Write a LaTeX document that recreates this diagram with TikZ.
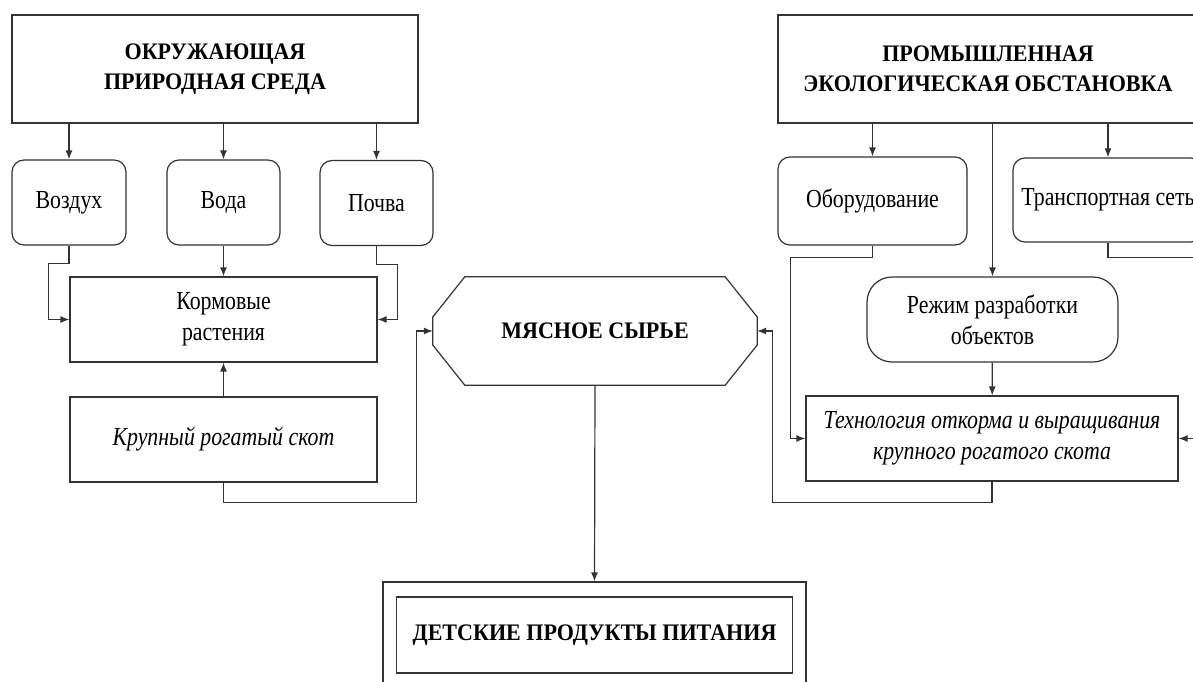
\documentclass[tikz,border=0pt]{standalone}
\usepackage{fontspec}
\setmainfont[FakeStretch=0.84]{Liberation Serif}
\newfontfamily\headfont[FakeStretch=0.93]{Liberation Serif}
\usetikzlibrary{arrows.meta}

\tikzset{
	link/.style={draw=black!80, line width=1.2pt},
	linkarrow/.style={link, -{Latex[length=9pt,width=7pt]}},
	block/.style={link, rectangle, align=center, inner sep=0pt, font=\fontsize{26}{31}\selectfont},
	softblock/.style={block, rounded corners=12pt},
	headblock/.style={block, font=\headfont\bfseries\fontsize{23.7}{30}\selectfont},
}

\begin{document}
\begin{tikzpicture}[x=1pt,y=-1pt]
	\useasboundingbox (0,0) rectangle (1193,682);
	\fill[white] (0,0) rectangle (1193,682);
	\clip (0,0) rectangle (1193,682);

	% top blocks
	\node[headblock, minimum width=406pt, minimum height=108pt] (env) at (215,69) {ОКРУЖАЮЩАЯ\\ПРИРОДНАЯ СРЕДА};
	\node[headblock, minimum width=420pt, minimum height=108pt] (ind) at (988,69) {ПРОМЫШЛЕННАЯ\\ЭКОЛОГИЧЕСКАЯ ОБСТАНОВКА};

	% left side
	\node[softblock, minimum width=114pt, minimum height=85pt] (air) at (69,202.5) {Воздух};
	\node[softblock, minimum width=113pt, minimum height=85pt] (water) at (223.5,202.5) {Вода};
	\node[softblock, minimum width=113pt, minimum height=85pt] (soil) at (376.5,203) {Почва};
	\node[block, minimum width=307pt, minimum height=85pt] (feed) at (223.5,319.5) {Кормовые\\растения};
	\node[block, minimum width=307pt, minimum height=85pt] (cattle) at (223.5,439.5) {\textit{Крупный рогатый скот}};

	% right side
	\node[softblock, minimum width=189pt, minimum height=88pt] (equip) at (872.5,201) {Оборудование};
	\node[softblock, minimum width=190pt, minimum height=84pt] (transp) at (1108,200) {Транспортная сеть};
	\node[softblock, rounded corners=25pt, minimum width=251pt, minimum height=85pt] (mode) at (992.5,319.5) {Режим разработки\\объектов};
	\node[block, minimum width=372pt, minimum height=85pt] (tech) at (992,438.5) {\textit{Технология откорма и выращивания}\\\textit{крупного рогатого скота}};

	% centre
	\node[font=\headfont\bfseries\fontsize{23.7}{30}\selectfont, minimum width=324pt, minimum height=108pt, inner sep=0pt] (meat) at (595,331) {МЯСНОЕ СЫРЬЕ};
	\draw[link] ([xshift=32pt]meat.north west) -- ([xshift=-32pt]meat.north east)
		-- ([yshift=14pt]meat.east) -- ([yshift=-14pt]meat.east)
		-- ([xshift=-32pt]meat.south east) -- ([xshift=32pt]meat.south west)
		-- ([yshift=-14pt]meat.west) -- ([yshift=14pt]meat.west) -- cycle;

	\node[block, minimum width=423pt, minimum height=106pt] (kidsframe) at (594.5,635) {};
	\node[headblock, minimum width=396pt, minimum height=76pt] (kids) at (kidsframe) {ДЕТСКИЕ ПРОДУКТЫ ПИТАНИЯ};

	% connectors
	\foreach \n in {air,water,soil}
		\draw[linkarrow] (env.south -| \n) -- (\n);
	\foreach \n in {equip,mode,transp}
		\draw[linkarrow] (ind.south -| \n) -- (\n);

	\draw[linkarrow] (air.south) -- ++(0,18) -| ([xshift=-21pt]feed.west) -- (feed.west);
	\draw[linkarrow] (water) -- (feed);
	\draw[linkarrow] (soil.south) -- ++(0,18) -| ([xshift=20pt]feed.east) -- (feed.east);
	\draw[linkarrow] (cattle) -- (feed);
	\draw[linkarrow] (cattle.south) -- ++(0,20) -| ([xshift=-16pt]meat.west) -- (meat.west);

	\draw[linkarrow] (equip.south) -- ++(0,12) -| ([xshift=-15pt]tech.west) -- (tech.west);
	\draw[linkarrow] (transp.south) -- ++(0,15) -| ([xshift=25pt]tech.east) -- (tech.east);
	\draw[linkarrow] (mode) -- (tech);
	\draw[linkarrow] (tech.south) -- ++(0,21) -| ([xshift=15pt]meat.east) -- (meat.east);

	\draw[linkarrow] (meat.south) -- (kidsframe.north);
\end{tikzpicture}
\end{document}
